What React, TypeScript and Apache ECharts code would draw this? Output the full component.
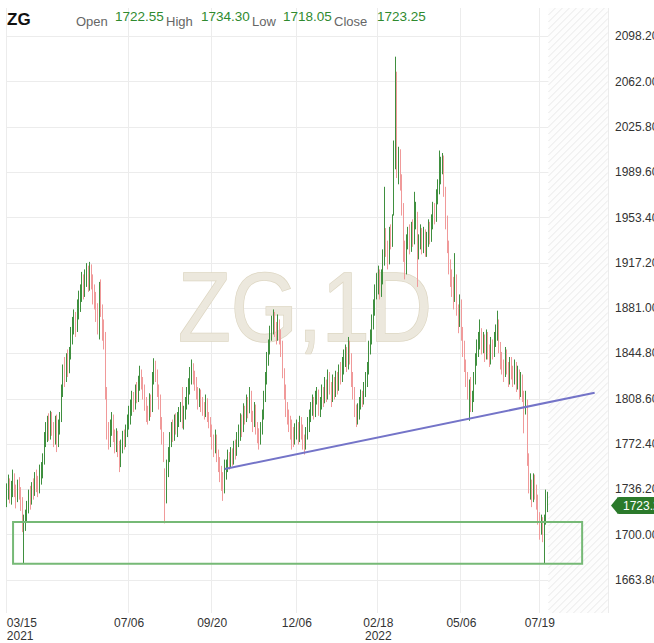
import React, { useEffect, useRef } from 'react';
import * as echarts from 'echarts';

// ---------- data ----------
const symbol = 'ZG';
const watermarkText = 'ZG,1D';
const quoteLabels = ['Open', 'High', 'Low', 'Close'];
const quoteValues = ['1722.55', '1734.30', '1718.05', '1723.25'];
const lastClose = 1723.25;

const holidays = [
  '2021-04-02', '2021-05-31', '2021-07-05', '2021-09-06', '2021-11-25', '2021-12-24',
  '2022-01-17', '2022-02-21', '2022-04-15', '2022-05-30', '2022-07-04', '2022-09-05',
];
const totalSlots = 384;
const xLabelDates = ['2021-03-15', '2021-07-06', '2021-09-20', '2021-12-06', '2022-02-18', '2022-05-06', '2022-07-19'];
const yearLabelDates = ['2021-03-15', '2022-02-18'];
const yTicks = [1663.8, 1700.0, 1736.2, 1772.4, 1808.6, 1844.8, 1881.0, 1917.2, 1953.4, 1989.6, 2025.8, 2062.0, 2098.2];
const yMin = 1637.4;
const yMax = 2120.9;

// rows: [open, close, low, high]
const barsSpring2021 = [
  [1730,1735,1722,1741],[1736,1742,1728,1748],[1741,1731,1725,1745],[1732,1738,1724,1743],[1737,1745,1730,1752],
  [1744,1736,1730,1749],[1735,1730,1721,1740],[1731,1740,1726,1744],[1739,1733,1728,1746],[1734,1725,1719,1738],
  [1726,1708,1702,1730],[1709,1712,1677,1716],[1711,1715,1703,1720],[1716,1722,1710,1727],[1723,1730,1717,1736],
  [1731,1728,1720,1739],[1727,1738,1724,1742],[1737,1735,1728,1745],[1734,1744,1731,1750],[1745,1742,1734,1752],
  [1741,1738,1730,1747],[1739,1745,1733,1756],[1744,1752,1740,1758],[1751,1760,1745,1765],[1761,1778,1756,1782],
  [1777,1782,1770,1790],[1781,1788,1774,1795],[1789,1780,1775,1797],[1781,1792,1776,1799],[1793,1785,1779,1798],
  [1786,1778,1770,1790],[1777,1790,1772,1795],[1791,1772,1766,1796],[1773,1788,1770,1792],[1787,1792,1780,1798],
  [1793,1815,1790,1820],[1814,1830,1810,1836],[1831,1828,1818,1842],[1827,1838,1822,1845],[1839,1832,1826,1848],
  [1833,1845,1829,1850],[1846,1860,1840,1866],[1859,1868,1852,1874],[1867,1872,1860,1880],[1873,1866,1858,1878],
];
const barsSummer2021 = [
  [1865,1880,1862,1888],[1881,1885,1872,1895],[1884,1892,1878,1900],[1893,1900,1886,1910],[1901,1896,1888,1908],
  [1895,1905,1890,1912],[1904,1910,1898,1917],[1911,1900,1894,1915],[1899,1912,1895,1918],[1913,1902,1896,1916],
  [1903,1895,1884,1908],[1894,1888,1880,1900],[1889,1878,1870,1894],[1877,1870,1860,1885],[1871,1895,1856,1902],
  [1896,1880,1874,1904],[1879,1862,1855,1884],[1861,1858,1848,1872],[1858,1812,1808,1862],[1812,1782,1776,1818],
  [1781,1778,1768,1790],[1777,1785,1770,1792],[1786,1790,1779,1798],[1791,1780,1774,1796],[1779,1772,1765,1784],
  [1773,1778,1766,1785],[1779,1768,1762,1783],[1769,1758,1750,1775],[1757,1770,1754,1776],[1771,1778,1765,1783],
  [1779,1775,1768,1784],[1774,1782,1770,1788],[1783,1790,1778,1796],[1789,1795,1784,1803],[1796,1800,1788,1808],
  [1801,1808,1795,1815],[1809,1805,1798,1814],[1804,1815,1800,1820],[1816,1812,1805,1822],[1811,1820,1806,1827],
  [1821,1828,1815,1835],[1829,1822,1816,1832],[1821,1815,1808,1826],[1816,1805,1799,1820],[1804,1798,1790,1810],
  [1797,1795,1788,1803],[1796,1808,1791,1813],[1809,1800,1794,1812],[1801,1825,1798,1830],[1826,1835,1820,1841],
  [1836,1830,1822,1839],[1829,1815,1810,1832],[1814,1808,1800,1820],[1809,1790,1784,1812],[1789,1780,1772,1794],
];
const barsFall2021 = [
  [1779,1762,1758,1782],[1750,1740,1709,1753],[1739,1752,1725,1760],[1753,1765,1746,1770],[1764,1775,1758,1782],
  [1776,1785,1770,1790],[1786,1780,1774,1792],[1779,1790,1775,1796],[1791,1785,1780,1797],[1784,1792,1778,1798],
  [1793,1795,1786,1802],[1796,1800,1790,1806],[1801,1790,1785,1818],[1789,1798,1784,1803],[1799,1805,1792,1810],
  [1806,1812,1800,1818],[1811,1818,1804,1825],[1819,1825,1812,1834],[1826,1832,1820,1840],[1833,1828,1820,1837],
  [1827,1822,1815,1831],[1821,1815,1808,1826],[1814,1808,1800,1818],[1809,1812,1802,1817],[1811,1805,1798,1816],
  [1804,1800,1795,1810],[1801,1798,1792,1806],[1799,1806,1794,1812],[1805,1795,1790,1809],[1794,1790,1785,1798],
  [1789,1785,1778,1794],[1784,1775,1768,1788],[1774,1770,1762,1780],[1771,1778,1765,1784],[1777,1765,1758,1780],
  [1764,1758,1750,1768],[1757,1750,1742,1762],[1749,1742,1735,1755],[1743,1738,1727,1750],[1737,1748,1733,1760],
  [1749,1755,1744,1760],[1756,1762,1750,1768],[1761,1758,1752,1766],[1759,1765,1754,1770],[1764,1760,1755,1769],
  [1761,1770,1756,1775],[1771,1768,1760,1776],[1767,1775,1763,1782],[1776,1780,1770,1788],[1781,1790,1775,1797],
];
const barsWinter2021 = [
  [1789,1785,1778,1796],[1786,1798,1782,1805],[1797,1795,1788,1803],[1796,1805,1790,1812],[1806,1800,1793,1810],
  [1801,1812,1797,1818],[1811,1795,1790,1815],[1794,1790,1782,1799],[1791,1800,1786,1806],[1801,1785,1780,1804],
  [1784,1780,1773,1790],[1779,1775,1768,1785],[1776,1785,1772,1790],[1786,1795,1780,1800],[1796,1810,1792,1815],
  [1811,1825,1806,1830],[1826,1840,1820,1846],[1841,1848,1835,1856],[1849,1862,1844,1867],[1863,1868,1855,1875],
  [1867,1872,1860,1880],[1873,1865,1858,1878],[1864,1860,1852,1870],[1861,1868,1855,1876],[1869,1860,1852,1872],
  [1859,1850,1842,1864],[1851,1830,1825,1855],[1829,1815,1808,1833],[1814,1800,1794,1820],[1799,1795,1788,1806],
  [1796,1790,1782,1800],[1789,1785,1776,1795],[1786,1780,1768,1792],[1779,1775,1770,1786],[1776,1782,1772,1789],
  [1781,1785,1776,1792],[1786,1778,1772,1790],[1777,1790,1774,1795],[1789,1782,1776,1794],[1783,1775,1768,1788],
  [1774,1770,1764,1780],[1771,1780,1768,1786],[1781,1788,1776,1794],[1787,1795,1782,1800],[1796,1800,1790,1806],
  [1801,1805,1795,1812],[1806,1798,1792,1810],[1797,1810,1794,1815],[1811,1812,1804,1818],[1813,1800,1795,1816],
];
const barsEarly2022 = [
  [1801,1805,1794,1810],[1806,1815,1800,1820],[1814,1808,1802,1818],[1809,1820,1805,1826],[1819,1812,1806,1824],
  [1813,1825,1808,1832],[1826,1818,1812,1830],[1817,1810,1802,1822],[1811,1822,1806,1828],[1821,1815,1808,1826],
  [1816,1825,1810,1831],[1826,1818,1812,1830],[1819,1830,1815,1836],[1831,1828,1820,1838],[1829,1835,1822,1842],
  [1836,1840,1828,1848],[1841,1845,1834,1852],[1846,1838,1830,1850],[1837,1850,1832,1858],[1851,1842,1836,1855],
  [1841,1825,1818,1845],[1824,1815,1808,1830],[1814,1800,1794,1818],[1799,1795,1786,1804],[1796,1798,1788,1805],
  [1799,1805,1792,1810],[1806,1810,1800,1816],[1811,1808,1802,1815],[1807,1815,1804,1822],[1816,1825,1810,1830],
  [1826,1830,1818,1838],[1831,1850,1828,1855],[1851,1858,1844,1864],[1859,1870,1852,1876],[1871,1880,1864,1888],
  [1881,1895,1875,1900],[1896,1900,1888,1909],[1901,1908,1892,1915],[1907,1895,1888,1912],[1896,1905,1890,1912],
  [1906,1920,1900,1928],[1921,1935,1915,1978],[1936,1930,1922,1945],[1929,1920,1912,1935],[1921,1940,1916,1946],
  [1941,1935,1928,1948],[1936,1950,1930,1956],[1960,2000,1955,2015],[1998,2045,1992,2082],[2045,1995,1985,2070],
];
const barsSpring2022 = [
  [1995,2005,1980,2010],[2000,1985,1975,2008],[1985,1960,1955,1988],[1958,1925,1918,1965],[1925,1910,1904,1935],
  [1912,1935,1908,1940],[1936,1940,1928,1946],[1941,1930,1924,1948],[1931,1945,1926,1950],[1946,1935,1930,1952],
  [1936,1950,1932,1974],[1951,1960,1944,1966],[1955,1925,1898,1958],[1926,1935,1920,1940],[1934,1942,1928,1948],
  [1941,1930,1924,1945],[1931,1940,1925,1946],[1939,1928,1922,1944],[1929,1935,1922,1942],[1936,1945,1930,1952],
  [1946,1938,1932,1950],[1939,1950,1934,1956],[1951,1960,1944,1966],[1959,1955,1948,1965],[1956,1970,1950,1976],
  [1971,1978,1964,1984],[1979,1985,1972,2007],[1986,1995,1980,2002],[1996,2000,1988,2005],[1999,1975,1970,2003],
  [1974,1950,1944,1978],[1949,1930,1925,1955],[1929,1915,1908,1935],[1914,1905,1898,1920],[1906,1900,1890,1912],
  [1899,1890,1880,1906],[1891,1905,1886,1925],[1904,1880,1875,1908],[1879,1870,1861,1884],[1871,1885,1866,1892],
  [1884,1860,1855,1888],[1859,1850,1842,1866],[1849,1835,1830,1855],[1834,1825,1818,1840],[1824,1815,1808,1830],
  [1814,1820,1791,1824],[1821,1805,1798,1826],[1806,1810,1798,1815],[1811,1825,1806,1830],[1826,1840,1820,1845],
];
const barsSummer2022 = [
  [1841,1850,1835,1856],[1849,1855,1842,1862],[1856,1860,1848,1872],[1859,1850,1844,1865],[1851,1855,1845,1862],
  [1856,1845,1838,1860],[1846,1858,1840,1864],[1857,1848,1840,1862],[1847,1840,1834,1852],[1841,1852,1836,1858],
  [1851,1848,1840,1856],[1849,1855,1842,1862],[1856,1860,1850,1868],[1861,1870,1855,1879],[1869,1850,1845,1872],
  [1849,1840,1832,1854],[1841,1835,1828,1846],[1834,1830,1822,1840],[1831,1845,1826,1850],[1844,1835,1828,1848],
  [1834,1825,1818,1838],[1826,1838,1820,1842],[1837,1830,1824,1842],[1829,1825,1818,1835],[1826,1835,1820,1840],
  [1834,1820,1814,1838],[1821,1830,1816,1835],[1829,1815,1808,1832],[1816,1825,1810,1830],[1824,1812,1806,1828],
  [1811,1800,1781,1815],[1801,1808,1796,1815],[1805,1760,1755,1808],[1760,1738,1733,1765],[1737,1740,1728,1749],
  [1739,1730,1722,1744],[1731,1745,1726,1749],[1744,1735,1728,1748],[1736,1728,1720,1740],[1727,1715,1708,1732],
  [1714,1705,1696,1718],[1706,1710,1700,1716],[1709,1700,1694,1714],[1701,1712,1677,1716],[1713,1725,1708,1736],
  [1722.55,1723.25,1718.05,1734.3],
];

// annotations
const boxStartIdx = 4;
const boxEndIdx = 367;
const boxTop = 1710.1;
const boxBottom = 1676.8;
const trendStartIdx = 139;
const trendStartValue = 1752.5;
const trendEndIdx = 375;
const trendEndValue = 1813.4;

// ---------- helpers ----------
const FONT = '"Liberation Sans", Arial, Helvetica, sans-serif';

function buildSessionDates(): string[] {
  const out: string[] = [];
  let t = Date.UTC(2021, 2, 15);
  while (out.length < totalSlots) {
    const d = new Date(t);
    const dow = d.getUTCDay();
    const s = d.toISOString().slice(0, 10);
    if (dow !== 0 && dow !== 6 && !holidays.includes(s)) out.push(s);
    t += 86400000;
  }
  return out;
}

export default function App() {
  const ref = useRef<HTMLDivElement>(null);

  useEffect(() => {
    if (!ref.current) return;
    const chart = echarts.init(ref.current, undefined, { renderer: 'svg' });
    const dates = buildSessionDates();
    const ohlc = [
      ...barsSpring2021, ...barsSummer2021, ...barsFall2021, ...barsWinter2021,
      ...barsEarly2022, ...barsSpring2022, ...barsSummer2022,
    ];
    const showDate = (_i: number, v: string) => xLabelDates.includes(v);

    const option: any = {
      animation: false,
      backgroundColor: '#ffffff',
      grid: { left: 6, right: 46, top: 8, bottom: 30, containLabel: false, outerBoundsMode: 'none' },
      xAxis: {
        type: 'category',
        data: dates,
        boundaryGap: true,
        axisLine: { show: false },
        axisTick: { show: false },
        axisLabel: {
          interval: showDate,
          formatter: (v: string) => {
            const md = v.slice(5, 7) + '/' + v.slice(8, 10);
            return yearLabelDates.includes(v) ? md + '\n' + v.slice(0, 4) : md;
          },
          fontSize: 12,
          lineHeight: 13,
          color: '#333',
          fontFamily: FONT,
          margin: 3,
          alignMinLabel: 'left',
          hideOverlap: false,
        },
        splitLine: { show: true, interval: showDate, lineStyle: { color: '#ececec', width: 1 } },
      },
      yAxis: {
        type: 'value',
        position: 'right',
        min: yMin,
        max: yMax,
        axisLine: { show: false },
        axisTick: { show: false, customValues: yTicks },
        axisLabel: {
          customValues: yTicks,
          formatter: (v: number) => v.toFixed(2),
          fontSize: 12,
          color: '#333',
          fontFamily: FONT,
          margin: 7,
        },
        splitLine: { show: true, lineStyle: { color: '#ececec', width: 1 } },
      },
      series: [
        {
          type: 'candlestick',
          data: ohlc,
          barWidth: 1,
          itemStyle: {
            color: '#4f9d4f',
            color0: '#f4a3a3',
            borderColor: '#3f8f3f',
            borderColor0: '#f09a9a',
            borderWidth: 1,
          },
          markLine: {
            silent: true,
            symbol: ['none', 'none'],
            label: { show: false },
            lineStyle: { color: '#7474c8', width: 2, type: 'solid' },
            data: [[
              { coord: [dates[trendStartIdx], trendStartValue] },
              { coord: [dates[trendEndIdx], trendEndValue] },
            ]],
          },
        },
      ],
    };
    chart.setOption(option);

    // pixel geometry from the library's scales
    const gridTop = 8;
    const gridBottom = 643 - 30;
    const gridRight = 654 - 46;
    const px = (d: string) => chart.convertToPixel({ xAxisIndex: 0 }, d) as number;
    const py = (v: number) => chart.convertToPixel({ yAxisIndex: 0 }, v) as number;
    const hx0 = (px(dates[ohlc.length - 1]) + px(dates[ohlc.length])) / 2;
    const yTag = py(lastClose);

    const els: any[] = [];
    // hatched future area
    els.push({ type: 'rect', z: 1, silent: true, shape: { x: hx0, y: gridTop, width: gridRight - hx0, height: gridBottom - gridTop }, style: { fill: '#fdfdfd' } });
    const step = 7;
    for (let k = hx0 + gridTop; k < gridRight + gridBottom; k += step) {
      const xs = Math.max(hx0, k - gridBottom);
      const xe = Math.min(gridRight, k - gridTop);
      if (xe <= xs) continue;
      els.push({ type: 'line', z: 1, silent: true, shape: { x1: xs, y1: k - xs, x2: xe, y2: k - xe }, style: { stroke: '#e9e9e9', lineWidth: 1 } });
    }
    // watermark
    els.push({
      type: 'text', z: 1, silent: true, x: 305, y: 307, scaleX: 0.88,
      style: { text: watermarkText, x: 0, y: 0, align: 'center', verticalAlign: 'middle', fontSize: 98, fontFamily: FONT, fill: '#ece8dd', stroke: '#ddd6c2', lineWidth: 1.5 },
    });
    // support box (green rectangle)
    const bx1 = px(dates[boxStartIdx]);
    const bx2 = px(dates[boxEndIdx]);
    const by1 = py(boxTop);
    const by2 = py(boxBottom);
    els.push({ type: 'rect', z: 5, silent: true, shape: { x: bx1, y: by1, width: bx2 - bx1, height: by2 - by1 }, style: { fill: 'none', stroke: '#76b976', lineWidth: 2 } });
    // header
    els.push({ type: 'text', z: 10, silent: true, style: { text: symbol, x: 7, y: 19, verticalAlign: 'middle', fontSize: 17, fontWeight: 'bold', fontFamily: FONT, fill: '#111' } });
    const labelX = [76, 166, 252, 334];
    const valueX = [115, 201, 283, 377];
    quoteLabels.forEach((t, i) => {
      els.push({ type: 'text', z: 10, silent: true, style: { text: t, x: labelX[i], y: 21, verticalAlign: 'middle', fontSize: 13, fontFamily: FONT, fill: '#666' } });
      els.push({ type: 'text', z: 10, silent: true, style: { text: quoteValues[i], x: valueX[i], y: 16.5, verticalAlign: 'middle', fontSize: 13.5, fontFamily: FONT, fill: '#2f8a2f' } });
    });
    // last price tag
    els.push({ type: 'polygon', z: 10, silent: true, shape: { points: [[611, yTag], [618, yTag - 8.5], [618, yTag + 8.5]] }, style: { fill: '#2b7a2b' } });
    els.push({ type: 'rect', z: 10, silent: true, shape: { x: 617, y: yTag - 8.5, width: 50, height: 17, r: 2 }, style: { fill: '#2b7a2b' } });
    els.push({ type: 'text', z: 11, silent: true, style: { text: lastClose.toFixed(2), x: 623, y: yTag, verticalAlign: 'middle', fontSize: 12, fontFamily: FONT, fill: '#ffffff' } });

    chart.setOption({ graphic: { elements: els } });

    return () => chart.dispose();
  }, []);

  return <div ref={ref} style={{ position: 'fixed', left: 0, top: 0, width: 654, height: 643 }} />;
}
